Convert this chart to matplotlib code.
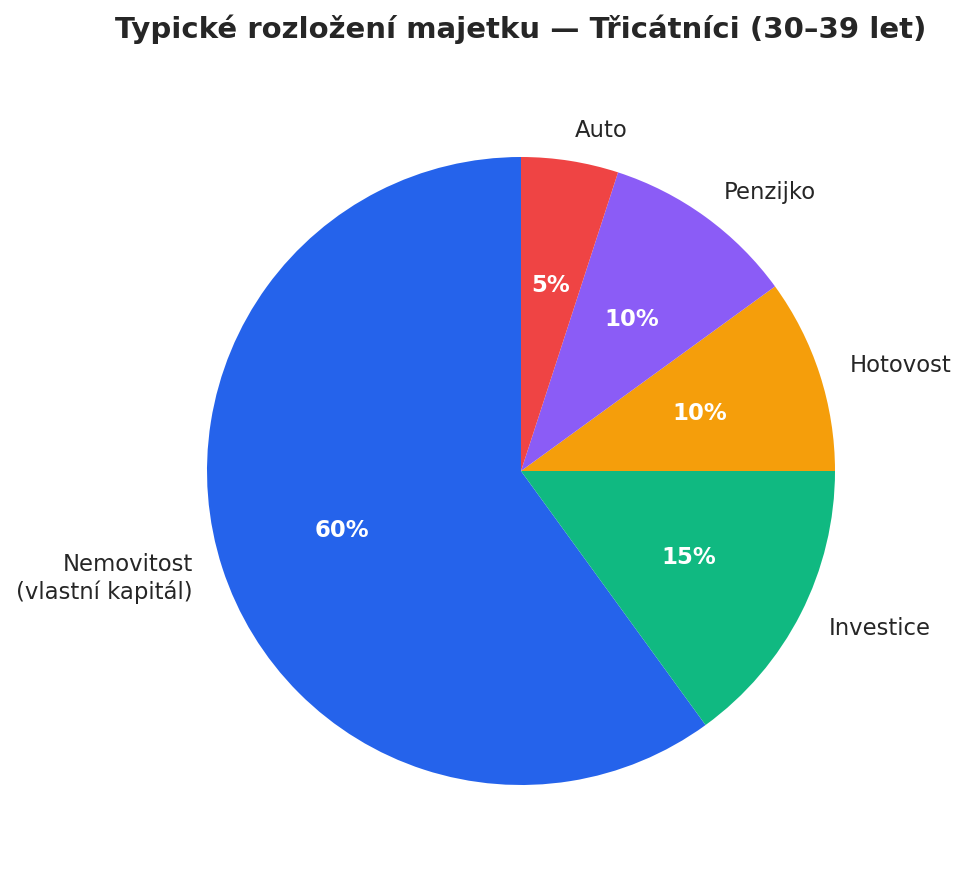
import matplotlib.pyplot as plt

# dati: quote tipiche del patrimonio
labels = ["Nemovitost\n(vlastní kapitál)", "Investice", "Hotovost", "Penzijko", "Auto"]
values = [60, 15, 10, 10, 5]
colors = ["#2563EB", "#10B981", "#F59E0B", "#8B5CF6", "#EF4444"]

W, H = 966, 879
fig = plt.figure(figsize=(W / 100, H / 100), dpi=100)

cx, cy, r = 521, 472, 314
ax = fig.add_axes([(cx - r) / W, (H - cy - r) / H, 2 * r / W, 2 * r / H])

wedges, texts, autotexts = ax.pie(values, labels=labels, colors=colors, startangle=90,
                                  autopct="%1.0f%%", pctdistance=0.6, labeldistance=1.1,
                                  textprops={"fontsize": 16.4, "color": "#262626"})
for t in autotexts:
    t.set_color("white")
    t.set_fontweight("bold")
    t.set_fontsize(16.4)
ax.set_xlim(-1, 1)
ax.set_ylim(-1, 1)
ax.set_aspect("equal")

fig.text(cx / W, 1 - 29 / H, "Typické rozložení majetku — Třicátníci (30–39 let)",
         ha="center", va="center", fontsize=21, fontweight="bold", color="#262626")

fig.savefig("out.png", dpi=100)
